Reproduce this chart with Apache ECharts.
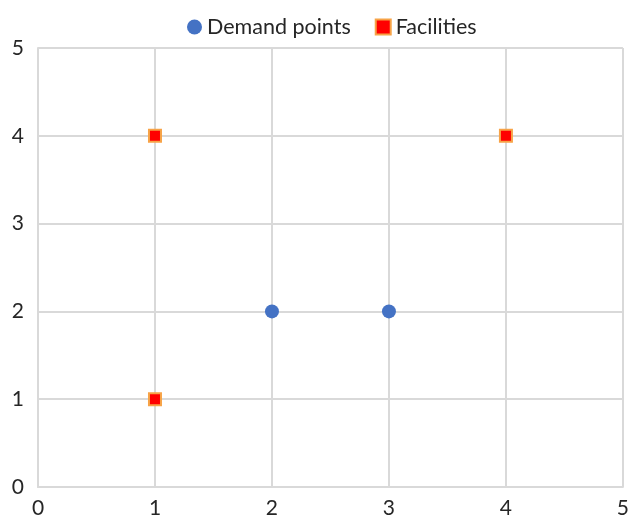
<!DOCTYPE html>
<html>
<head>
<meta charset="utf-8">
<script src="https://cdn.jsdelivr.net/npm/echarts@6/dist/echarts.min.js"></script>
<style>html,body{margin:0;padding:0;background:#fff;}#c{width:632px;height:519px;}</style>
</head>
<body>
<div id="c"></div>
<script>
const demandPoints = [[2, 2], [3, 2]];
const facilities = [[1, 4], [4, 4], [1, 1]];
const xTicks = [0, 1, 2, 3, 4, 5];
const yTicks = [0, 1, 2, 3, 4, 5];

const chart = echarts.init(document.getElementById('c'));
const gridLine = {show: true, lineStyle: {color: '#d9d9d9', width: 2}};
const font = 'Lato, "Open Sans", sans-serif';
chart.setOption({
  animation: false,
  backgroundColor: '#fff',
  textStyle: {fontFamily: font},
  legend: {
    top: 11,
    left: 182,
    itemGap: 24,
    itemWidth: 15,
    itemHeight: 15,
    textStyle: {fontSize: 21.5, color: '#262626', fontFamily: font},
    data: ['Demand points', 'Facilities']
  },
  grid: {left: 38, right: 7, top: 48, bottom: 32},
  xAxis: {
    type: 'value', min: xTicks[0], max: xTicks[xTicks.length - 1], interval: 1,
    axisLine: {show: true, lineStyle: {color: '#d9d9d9', width: 2}},
    axisTick: {show: false},
    splitLine: gridLine,
    axisLabel: {fontSize: 21, color: '#262626', margin: 11, fontFamily: font}
  },
  yAxis: {
    type: 'value', min: yTicks[0], max: yTicks[yTicks.length - 1], interval: 1,
    axisLine: {show: true, lineStyle: {color: '#d9d9d9', width: 2}},
    axisTick: {show: false},
    splitLine: gridLine,
    axisLabel: {fontSize: 21, color: '#262626', margin: 14, fontFamily: font}
  },
  series: [
    {
      name: 'Demand points', type: 'scatter', data: demandPoints,
      symbol: 'circle', symbolSize: 14,
      itemStyle: {color: '#4472c4', opacity: 1}
    },
    {
      name: 'Facilities', type: 'scatter', data: facilities,
      symbol: 'rect', symbolSize: 12,
      itemStyle: {color: '#ff0000', borderColor: '#f7a347', borderWidth: 2, opacity: 1}
    }
  ]
});
</script>
</body>
</html>
